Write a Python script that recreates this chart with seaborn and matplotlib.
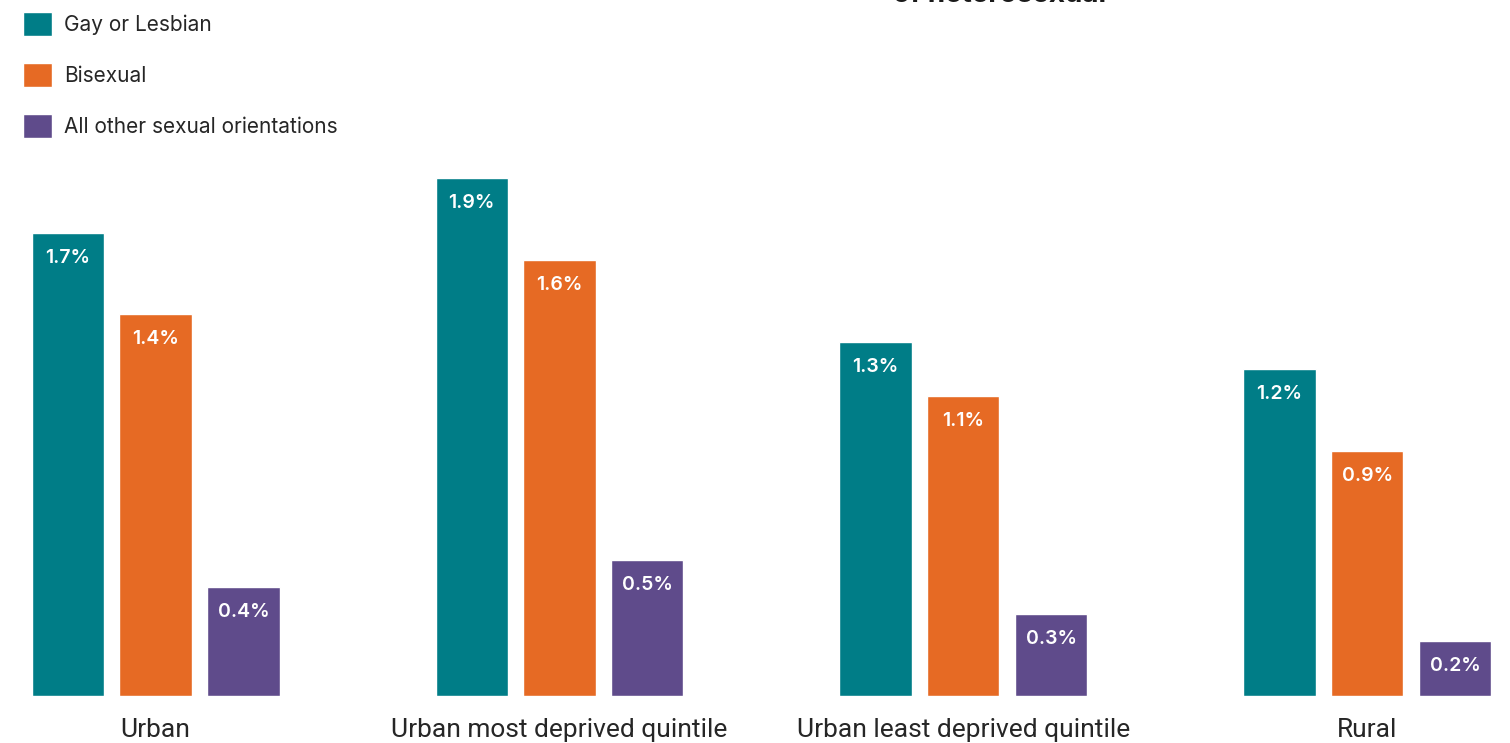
import pandas as pd
import matplotlib
matplotlib.use("Agg")
import matplotlib.pyplot as plt
import seaborn as sns

# Share of population by sexual orientation and area type (%)
areas = ["Urban", "Urban most deprived quintile", "Urban least deprived quintile", "Rural"]
orientations = ["Gay or Lesbian", "Bisexual", "All other sexual orientations"]
gay_lesbian = [1.7, 1.9, 1.3, 1.2]
bisexual = [1.4, 1.6, 1.1, 0.9]
all_other = [0.4, 0.5, 0.3, 0.2]

colors = ["#007D87", "#E66A24", "#5F4B8B"]
text_color = "#262626"

df = pd.DataFrame({
    "area": areas * 3,
    "orientation": [o for o in orientations for _ in areas],
    "value": gay_lesbian + bisexual + all_other,
})

sns.set_theme(style="white")
plt.rcParams["font.family"] = ["Inter", "DejaVu Sans"]

fig = plt.figure(figsize=(15.1, 7.43), dpi=100)
ax = fig.add_axes([0, 47 / 743, 1, 696 / 743])

sns.barplot(data=df, x="area", y="value", hue="orientation",
            hue_order=orientations, order=areas, palette=colors,
            width=0.653, gap=0.18, saturation=1, ax=ax)

ax.set_xlim(-0.385, 3.353)
ax.set_ylim(0, 2.553)
ax.set_xlabel("")
ax.set_ylabel("")
ax.set_yticks([])
for s in ax.spines.values():
    s.set_visible(False)
ax.tick_params(axis="x", length=0, pad=16)
for lab in ax.get_xticklabels():
    lab.set_fontfamily(["Roboto", "DejaVu Sans"])
    lab.set_fontsize(19)
    lab.set_color(text_color)

# value labels inside the top of each bar
for cont in ax.containers:
    for bar in cont:
        h = bar.get_height()
        ax.annotate(f"{h:.1f}%", (bar.get_x() + bar.get_width() / 2, h),
                    xytext=(0, -25), textcoords="offset pixels",
                    ha="center", va="center", color="white",
                    fontsize=14, fontweight="semibold")

handles, labels = ax.get_legend_handles_labels()
ax.legend(handles, labels, loc="upper left",
          bbox_to_anchor=(23 / 1510, 1 - 12 / 743), bbox_transform=fig.transFigure,
          frameon=False, fontsize=15, handlelength=1.4, handleheight=1.4,
          handletextpad=0.55, labelspacing=1.3, borderpad=0, borderaxespad=0,
          labelcolor=text_color)

# title cut off at the top edge of the picture
fig.text(1000 / 1510, 1 - 2 / 743, "of heterosexual", ha="center", va="baseline",
         fontsize=20, fontweight="bold", color="#1a1a1a")

fig.savefig("out.png", dpi=100)
